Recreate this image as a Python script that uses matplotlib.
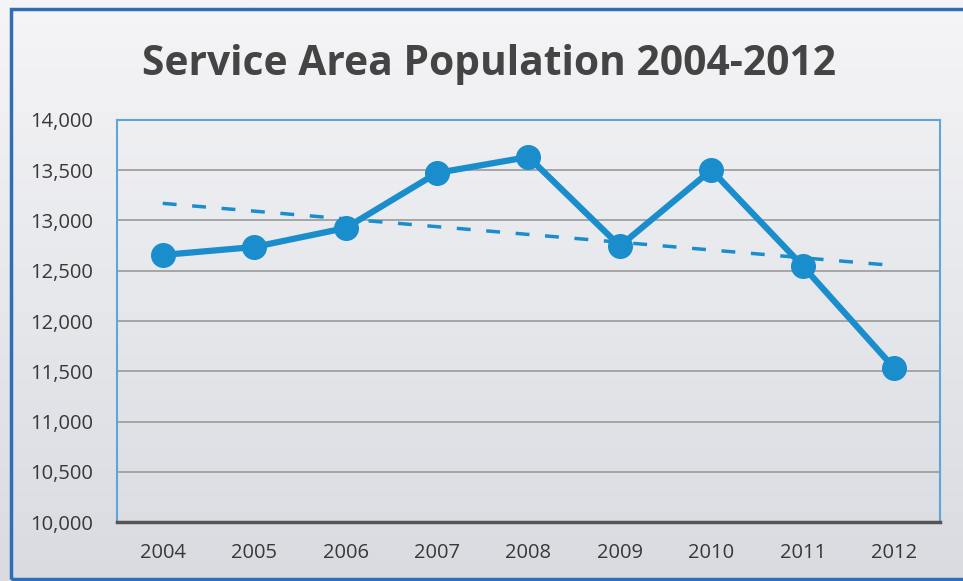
import numpy as np
import matplotlib.pyplot as plt
from matplotlib.patches import Rectangle

# data
years = ['2004', '2005', '2006', '2007', '2008', '2009', '2010', '2011', '2012']
population = [12657, 12736, 12925, 13473, 13632, 12746, 13502, 12547, 11532]
y_ticks = [10000, 10500, 11000, 11500, 12000, 12500, 13000, 13500, 14000]

line_color = '#1a8dcc'
text_color = '#383838'

fig = plt.figure(figsize=(9.63, 5.81), dpi=100)

# background gradient
bg = fig.add_axes([0, 0, 1, 1], zorder=-10)
grad = np.linspace(0, 1, 256).reshape(-1, 1)
bg.imshow(grad, aspect='auto', cmap=plt.matplotlib.colors.LinearSegmentedColormap.from_list(
    'bg', ['#f5f5f7', '#d9dbe1']), extent=[0, 1, 0, 1], origin='upper')
bg.set_xlim(0, 1)
bg.set_ylim(0, 1)
bg.axis('off')

# outer border
fig.patches.append(Rectangle((0.011, 0.004), 0.995, 0.981, transform=fig.transFigure,
                             fill=False, edgecolor='#2f6db5', linewidth=2.5))

ax = fig.add_axes([0.1215, 0.1015, 0.8545, 0.692])
ax.set_facecolor('none')

x = np.arange(len(years))
ax.plot(x, population, color=line_color, linewidth=4.5, marker='o', markersize=17,
        solid_capstyle='round', zorder=3)

# linear trendline
slope, intercept = np.polyfit(x, population, 1)
ax.plot(x, slope * x + intercept, color=line_color, linewidth=2.5,
        linestyle=(0, (4, 4.5)), zorder=2)

ax.set_xlim(-0.5, len(years) - 0.5)
ax.set_ylim(10000, 14000)
ax.set_yticks(y_ticks)
ax.set_yticklabels([f'{v:,}' for v in y_ticks])
ax.set_xticks(x)
ax.set_xticklabels(years)
ax.tick_params(length=0, labelsize=14.5, labelcolor=text_color)
ax.tick_params(axis='y', pad=17)
ax.tick_params(axis='x', pad=15)
for lbl in ax.get_xticklabels() + ax.get_yticklabels():
    lbl.set_fontfamily('Open Sans')

ax.grid(axis='y', color='#9a9a9a', linewidth=1.2)
ax.set_axisbelow(True)
for side in ['left', 'top', 'right']:
    ax.spines[side].set_color('#5aa8d8')
    ax.spines[side].set_linewidth(1.5)
ax.spines['bottom'].set_color('#555555')
ax.spines['bottom'].set_linewidth(2.5)

fig.text(0.508, 0.889, 'Service Area Population 2004-2012', ha='center', va='center',
         fontsize=29.3, fontweight='bold', color='#444444', family='Open Sans')

fig.savefig('out.png', dpi=100)
